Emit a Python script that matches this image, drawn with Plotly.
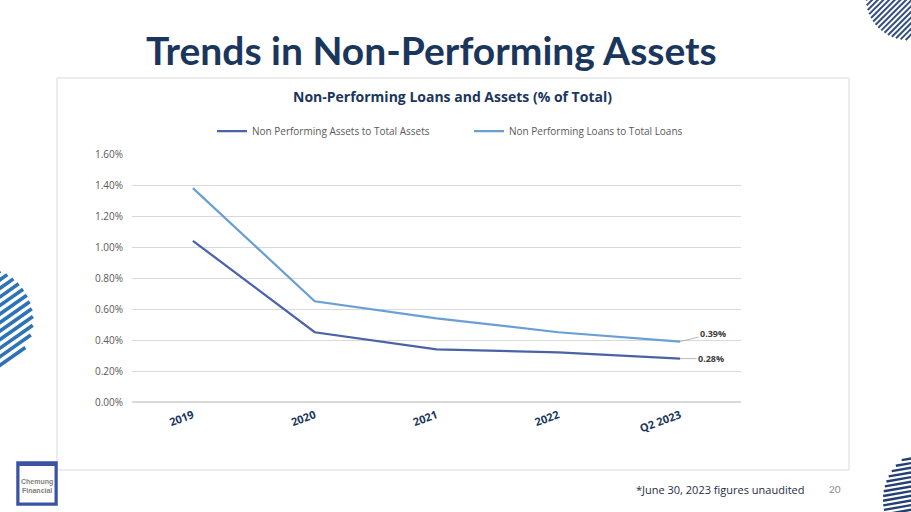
import math
import plotly.graph_objects as go

# ---- data ----
categories = ["2019", "2020", "2021", "2022", "Q2 2023"]
npa_to_assets = [1.04, 0.45, 0.34, 0.32, 0.28]
npl_to_loans = [1.38, 0.65, 0.54, 0.45, 0.39]
series_names = ["Non Performing Assets to Total Assets", "Non Performing Loans to Total Loans"]
y_ticks = [0.0, 0.2, 0.4, 0.6, 0.8, 1.0, 1.2, 1.4, 1.6]
y_tick_labels = ["%.2f%%" % v for v in y_ticks]

W, H = 911, 512
ML, MR, MT, MB = 132, 170, 154, 110
PW, PH = W - ML - MR, H - MT - MB


def X(px):
    return (px - ML) / PW


def Y(py):
    return (H - MB - py) / PH


NAVY = "#1b365d"
C_ASSETS = "#4a62a6"
C_LOANS = "#6a9fd4"

fig = go.Figure()
fig.add_trace(go.Scatter(x=categories, y=npa_to_assets, mode="lines", name=series_names[0],
                         line=dict(color=C_ASSETS, width=2.25)))
fig.add_trace(go.Scatter(x=categories, y=npl_to_loans, mode="lines", name=series_names[1],
                         line=dict(color=C_LOANS, width=2.25)))

shapes = []
# chart border
shapes.append(dict(type="rect", xref="paper", yref="paper", x0=X(57), x1=X(849), y0=Y(470), y1=Y(78),
                   line=dict(color="#d9d9d9", width=1), fillcolor="rgba(0,0,0,0)", layer="below"))


def stripes(cx, cy, r, ang, period, width, color):
    a = math.radians(ang)
    u = (math.cos(a), -math.sin(a))
    n = (math.sin(a), math.cos(a))
    d = -r + period / 2
    while d < r:
        h = math.sqrt(max(r * r - d * d, 0))
        mx, my = cx + d * n[0], cy + d * n[1]
        shapes.append(dict(type="line", xref="paper", yref="paper",
                           x0=X(mx - h * u[0]), y0=Y(my - h * u[1]),
                           x1=X(mx + h * u[0]), y1=Y(my + h * u[1]),
                           line=dict(color=color, width=width)))
        d += period


stripes(908, -2, 42, 45, 4.0, 2.0, "#34507f")
stripes(-20, 320, 53, 35, 7, 3.6, "#2e74b5")
stripes(935, 500, 52, 10, 4.6, 2.4, "#243f73")

# logo
shapes.append(dict(type="rect", xref="paper", yref="paper", x0=X(17), x1=X(57), y0=Y(505), y1=Y(462),
                   line=dict(color="#3a53a4", width=1.5), fillcolor="#3a53a4"))
shapes.append(dict(type="rect", xref="paper", yref="paper", x0=X(19.5), x1=X(54.5), y0=Y(502.5), y1=Y(466),
                   line=dict(color="white", width=0), fillcolor="white"))

annotations = [
    dict(text="<b>Trends in Non-Performing Assets</b>", xref="paper", yref="paper", x=X(431), y=Y(50),
         xanchor="center", yanchor="middle", showarrow=False,
         font=dict(family="Lato", size=39, color=NAVY)),
    dict(text="<b>Non-Performing Loans and Assets (% of Total)</b>", xref="paper", yref="paper",
         x=X(452), y=Y(96), xanchor="center", yanchor="middle", showarrow=False,
         font=dict(family="Open Sans", size=14, color=NAVY)),
    dict(text="*June 30, 2023 figures unaudited", xref="paper", yref="paper", x=X(807), y=Y(489),
         xanchor="right", yanchor="middle", showarrow=False,
         font=dict(family="Open Sans", size=11, color="#1f2d45")),
    dict(text="20", xref="paper", yref="paper", x=X(835), y=Y(489), xanchor="center", yanchor="middle",
         showarrow=False, font=dict(family="Lato", size=10, color="#8c8c8c")),
    dict(text="<b>Chemung<br>Financial</b>", xref="paper", yref="paper", x=X(37), y=Y(486),
         xanchor="center", yanchor="middle", showarrow=False,
         font=dict(family="Liberation Sans", size=7, color="#7f7f7f")),
    dict(text="<b>%.2f%%</b>" % npl_to_loans[-1], x=categories[-1], y=npl_to_loans[-1], ax=33, ay=-8,
         showarrow=True, arrowhead=0, arrowwidth=0.8, arrowcolor="#a6a6a6",
         font=dict(family="Open Sans", size=9, color="#404040")),
    dict(text="<b>%.2f%%</b>" % npa_to_assets[-1], x=categories[-1], y=npa_to_assets[-1], ax=31, ay=0,
         showarrow=True, arrowhead=0, arrowwidth=0.8, arrowcolor="#a6a6a6",
         font=dict(family="Open Sans", size=9, color="#404040")),
]

fig.update_layout(
    width=W, height=H,
    margin=dict(l=ML, r=MR, t=MT, b=MB),
    paper_bgcolor="white", plot_bgcolor="white",
    showlegend=True,
    legend=dict(orientation="h", x=X(212), y=Y(131), xanchor="left", yanchor="middle",
                font=dict(family="Open Sans", size=10, color="#595959"), entrywidth=212,
                bgcolor="rgba(0,0,0,0)"),
    shapes=shapes,
    annotations=annotations,
    xaxis=dict(type="category", range=[-0.5, 4.5], showgrid=False, showline=False, zeroline=False,
               tickangle=-20, tickfont=dict(family="Open Sans", size=11, color=NAVY, weight="bold"),
               ticks="", ticklabelstandoff=4),
    yaxis=dict(range=[0, 1.6], tickvals=y_ticks, ticktext=y_tick_labels,
               showgrid=True, gridcolor="#d9d9d9", gridwidth=1, zeroline=True, zerolinecolor="#d9d9d9",
               showline=False, ticks="", ticklabelstandoff=8,
               tickfont=dict(family="Open Sans", size=10, color="#595959")),
)

fig.write_html("out.html", config={"displayModeBar": False},
               post_script="document.body.style.margin='0';document.body.style.overflow='hidden';")
